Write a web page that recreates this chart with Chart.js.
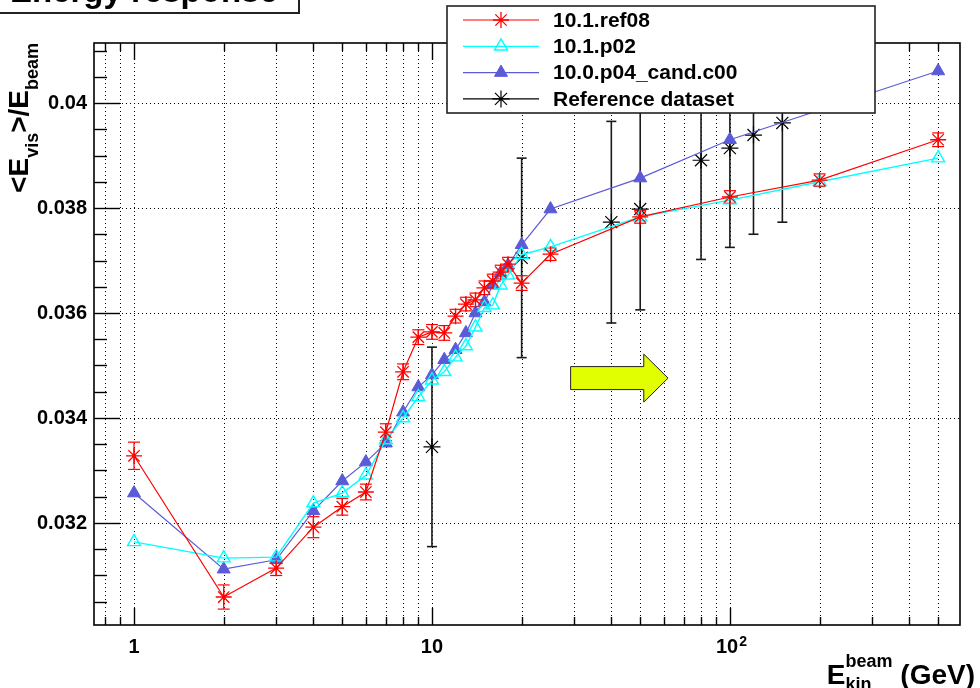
<!DOCTYPE html>
<html>
<head>
<meta charset="utf-8">
<title>Energy response</title>
<script src="https://cdn.jsdelivr.net/npm/chart.js@4.4.1/dist/chart.umd.min.js"></script>
<style>
  html, body { margin: 0; padding: 0; background: #fff; }
  canvas { display: block; }
</style>
</head>
<body>
<canvas id="response" width="980" height="688"></canvas>
<script>
'use strict'

// beam kinetic energies (GeV)
const energies = [1, 2, 3, 4, 5, 6, 7, 8, 9, 10, 11, 12, 13, 14, 15, 16, 17, 18, 20, 25, 50, 100, 200, 500]
const energiesP04 = [1, 2, 3, 4, 5, 6, 7, 8, 9, 10, 11, 12, 13, 14, 15, 16, 17, 18, 20, 25, 50, 100, 500]
const energiesRef = [10, 20, 40, 50, 80, 100, 120, 150]

// <E_vis>/E_beam per release
const ref08 = [0.03328, 0.03059, 0.03114, 0.03192, 0.03231, 0.03259, 0.03373, 0.03488, 0.03554, 0.03564,
  0.03562, 0.03594, 0.03617, 0.03625, 0.03648, 0.03661, 0.03678, 0.03693, 0.03657, 0.03712,
  0.03783, 0.03821, 0.03853, 0.03930]
const ref08Err = [0.00026, 0.00023, 0.00014, 0.00020, 0.00016, 0.00015, 0.00016, 0.00015, 0.00014, 0.00014,
  0.00014, 0.00013, 0.00013, 0.00013, 0.00013, 0.00013, 0.00013, 0.00013, 0.00014, 0.00012,
  0.00012, 0.00012, 0.00012, 0.00013]
const p02 = [0.03164, 0.03133, 0.03135, 0.03238, 0.03257, 0.03291, 0.03358, 0.03400, 0.03440, 0.03472,
  0.03488, 0.03516, 0.03537, 0.03573, 0.03610, 0.03615, 0.03653, 0.03672, 0.03711, 0.03726,
  0.03783, 0.03815, 0.03850, 0.03895]
const p04cand = [0.03257, 0.03112, 0.03130, 0.03223, 0.03280, 0.03316, 0.03352, 0.03411, 0.03459, 0.03482,
  0.03511, 0.03530, 0.03562, 0.03600, 0.03621, 0.03653, 0.03676, 0.03691, 0.03730, 0.03798,
  0.03857, 0.03930, 0.04061]
const refData = [0.03345, 0.03705, 0.03773, 0.03798, 0.03891, 0.03914, 0.03939, 0.03962]
const refErr = [0.00190, 0.00190, 0.00192, 0.00192, 0.00189, 0.00189, 0.00189, 0.00189]

// axes
const xTickValues = [1, 10, 100]
const xTickLabels = ['1', '10', '10']
const xTickExponents = ['', '', '2']
const xGridValues = [0.8, 0.9, 1, 2, 3, 4, 5, 6, 7, 8, 9, 10, 20, 30, 40, 50, 60, 70, 80, 90, 100, 200, 300, 400, 500]
const yTickValues = [0.032, 0.034, 0.036, 0.038, 0.04]
const yTickLabels = ['0.032', '0.034', '0.036', '0.038', '0.04']
const yMinorStep = 0.0005

const FONT = 'Liberation Sans, Arial, Helvetica, sans-serif'

function points (xs, ys) {
  return ys.map((y, i) => ({ x: xs[i], y }))
}

function strokeLine (ctx, x1, y1, x2, y2) {
  ctx.beginPath()
  ctx.moveTo(x1, y1)
  ctx.lineTo(x2, y2)
  ctx.stroke()
}

// a trailing space keeps "10" left of centre so the exponent fits beside it
function xLabelText (i) {
  return xTickExponents[i] ? xTickLabels[i] + ' ' : xTickLabels[i]
}

function drawErrorBars (chart, datasetIndex, errors, color, width, cap) {
  const { ctx, chartArea, scales } = chart
  const meta = chart.getDatasetMeta(datasetIndex)
  const values = chart.data.datasets[datasetIndex].data
  ctx.save()
  ctx.beginPath()
  ctx.rect(chartArea.left, chartArea.top, chartArea.width, chartArea.height)
  ctx.clip()
  ctx.strokeStyle = color
  ctx.lineWidth = width
  meta.data.forEach((pt, i) => {
    const hi = scales.y.getPixelForValue(values[i].y + errors[i])
    const lo = scales.y.getPixelForValue(values[i].y - errors[i])
    strokeLine(ctx, pt.x, hi, pt.x, lo)
    strokeLine(ctx, pt.x - cap, hi, pt.x + cap, hi)
    strokeLine(ctx, pt.x - cap, lo, pt.x + cap, lo)
  })
  ctx.restore()
}

// text made of pieces with their own size and baseline shift (sub/superscripts)
function piecesWidth (ctx, pieces) {
  let w = 0
  pieces.forEach(p => {
    ctx.font = 'bold ' + p.size + 'px ' + FONT
    if (!p.stack) w += ctx.measureText(p.text).width
  })
  return w
}

function drawPieces (ctx, pieces, x, y) {
  let cx = x
  pieces.forEach(p => {
    ctx.font = 'bold ' + p.size + 'px ' + FONT
    ctx.fillText(p.text, cx, y + p.shift)
    if (!p.stack) cx += ctx.measureText(p.text).width
  })
}

const rootStyle = {
  id: 'rootStyle',
  beforeDatasetsDraw (chart) {
    const { ctx, chartArea: a, scales: { x, y } } = chart
    ctx.save()
    ctx.strokeStyle = '#000'
    ctx.lineWidth = 1
    ctx.setLineDash([1, 3])
    xGridValues.forEach(v => {
      const px = Math.round(x.getPixelForValue(v)) + 0.5
      strokeLine(ctx, px, a.top, px, a.bottom)
    })
    yTickValues.forEach(v => {
      const py = Math.round(y.getPixelForValue(v)) + 0.5
      strokeLine(ctx, a.left, py, a.right, py)
    })
    ctx.restore()
    drawErrorBars(chart, 0, ref08Err, '#ff0000', 1.2, 6)
    drawErrorBars(chart, 3, refErr, '#1a1a1a', 1.6, 5)
  },
  afterDatasetsDraw (chart) {
    const { ctx, chartArea: a, scales: { x, y } } = chart
    ctx.save()
    ctx.strokeStyle = '#000'
    ctx.lineWidth = 1.4

    // tick marks, pointing into the frame
    xGridValues.forEach(v => {
      const px = Math.round(x.getPixelForValue(v)) + 0.5
      const len = xTickValues.includes(v) ? 17 : 8
      strokeLine(ctx, px, a.bottom, px, a.bottom - len)
      strokeLine(ctx, px, a.top, px, a.top + len)
    })
    for (let v = 0.0305; v < y.max; v += yMinorStep) {
      const major = yTickValues.some(t => Math.abs(t - v) < 1e-7)
      const py = Math.round(y.getPixelForValue(v)) + 0.5
      strokeLine(ctx, a.left, py, a.left + (major ? 26 : 13), py)
    }
    ctx.lineWidth = 1.6
    ctx.strokeRect(a.left, a.top, a.right - a.left, a.bottom - a.top)

    // exponents of the x tick labels
    ctx.fillStyle = '#000'
    ctx.textBaseline = 'alphabetic'
    xTickValues.forEach((v, i) => {
      if (!xTickExponents[i]) return
      ctx.font = 'bold 20px ' + FONT
      const left = x.getPixelForValue(v) - ctx.measureText(xLabelText(i)).width / 2
      const base = ctx.measureText(xTickLabels[i]).width
      ctx.font = 'bold 14px ' + FONT
      ctx.fillText(xTickExponents[i], left + base + 1, a.bottom + 21)
    })

    // arrow annotation, placed on the data axes
    const ax0 = x.getPixelForValue(29.2)
    const ax1 = x.getPixelForValue(51.4)
    const ax2 = x.getPixelForValue(62)
    const ay = y.getPixelForValue(0.03476)
    ctx.beginPath()
    ctx.moveTo(ax0, ay - 11.5)
    ctx.lineTo(ax1, ay - 11.5)
    ctx.lineTo(ax1, ay - 24)
    ctx.lineTo(ax2, ay)
    ctx.lineTo(ax1, ay + 24)
    ctx.lineTo(ax1, ay + 11.5)
    ctx.lineTo(ax0, ay + 11.5)
    ctx.closePath()
    ctx.fillStyle = '#e2ff00'
    ctx.fill()
    ctx.lineWidth = 1
    ctx.strokeStyle = '#222'
    ctx.stroke()

    // legend box
    ctx.fillStyle = '#fff'
    ctx.fillRect(447, 6, 428, 107)
    ctx.lineWidth = 1.6
    ctx.strokeStyle = '#222'
    ctx.strokeRect(447, 6, 428, 107)
    chart.data.datasets.forEach((ds, i) => {
      const ry = 20 + i * 26.3
      ctx.strokeStyle = ds.borderColor
      ctx.lineWidth = 1.2
      strokeLine(ctx, 463, ry, 539, ry)
      ctx.fillStyle = ds.pointBackgroundColor
      ctx.strokeStyle = ds.pointBorderColor
      ctx.lineWidth = ds.pointBorderWidth
      Chart.helpers.drawPoint(ctx, { pointStyle: ds.pointStyle, radius: ds.pointRadius, rotation: 0, borderWidth: ds.pointBorderWidth }, 501, ry)
      ctx.fillStyle = '#000'
      ctx.font = 'bold 21px ' + FONT
      ctx.textBaseline = 'middle'
      ctx.fillText(ds.label, 553, ry + 1)
    })
    ctx.restore()
  },
  afterDraw (chart) {
    const { ctx, chartArea: a } = chart
    ctx.save()
    ctx.fillStyle = '#000'
    ctx.textBaseline = 'alphabetic'

    // y title, rotated and ending at the top of the frame
    const yTitle = [
      { text: '<E', size: 28, shift: 0 },
      { text: 'vis', size: 18, shift: 10 },
      { text: '>/E', size: 28, shift: 0 },
      { text: 'beam', size: 18, shift: 10 }
    ]
    const yw = piecesWidth(ctx, yTitle)
    ctx.save()
    ctx.translate(28, a.top)
    ctx.rotate(-Math.PI / 2)
    drawPieces(ctx, yTitle, -yw, 0)
    ctx.restore()

    // x title, right aligned under the frame; "beam" sits above "kin"
    ctx.font = 'bold 18px ' + FONT
    const extra = ctx.measureText('beam').width - ctx.measureText('kin').width
    const xTitle = [
      { text: 'E', size: 28, shift: 0 },
      { text: 'beam', size: 18, shift: -17, stack: true },
      { text: 'kin', size: 18, shift: 6 },
      { text: ' (GeV)', size: 28, shift: 0, gap: extra }
    ]
    let cx = 975 - piecesWidth(ctx, xTitle) - extra
    xTitle.forEach(p => {
      cx += p.gap || 0
      ctx.font = 'bold ' + p.size + 'px ' + FONT
      ctx.fillText(p.text, cx, 684 + p.shift)
      if (!p.stack) cx += ctx.measureText(p.text).width
    })

    // title box, cut by the top of the canvas
    ctx.fillStyle = '#fff'
    ctx.fillRect(-4, -30, 303, 43)
    ctx.strokeStyle = '#222'
    ctx.lineWidth = 2
    ctx.strokeRect(-4, -30, 303, 43)
    ctx.fillStyle = '#000'
    ctx.font = 'bold 33px ' + FONT
    ctx.fillText('Energy response', 10, 2)
    ctx.restore()
  }
}

const context = document.getElementById('response').getContext('2d')
new Chart(context, {
  type: 'line',
  data: {
    datasets: [
      {
        label: '10.1.ref08',
        data: points(energies, ref08),
        borderColor: '#ff0000',
        borderWidth: 1.2,
        pointStyle: 'star',
        pointRadius: 8,
        pointBorderColor: '#ff0000',
        pointBackgroundColor: '#ff0000',
        pointBorderWidth: 1.3
      },
      {
        label: '10.1.p02',
        data: points(energies, p02),
        borderColor: '#00ffff',
        borderWidth: 1.4,
        pointStyle: 'triangle',
        pointRadius: 7.5,
        pointBorderColor: '#00ffff',
        pointBackgroundColor: 'rgba(0,0,0,0)',
        pointBorderWidth: 1.4
      },
      {
        label: '10.0.p04_cand.c00',
        data: points(energiesP04, p04cand),
        borderColor: '#5b5bd8',
        borderWidth: 1.2,
        pointStyle: 'triangle',
        pointRadius: 7.5,
        pointBorderColor: '#5b5bd8',
        pointBackgroundColor: '#5b5bd8',
        pointBorderWidth: 1
      },
      {
        label: 'Reference dataset',
        data: points(energiesRef, refData),
        borderColor: '#000',
        showLine: false,
        pointStyle: 'star',
        pointRadius: 8.5,
        pointBorderColor: '#000',
        pointBackgroundColor: '#000',
        pointBorderWidth: 1.2
      }
    ]
  },
  options: {
    responsive: false,
    animation: false,
    events: [],
    layout: { autoPadding: false, padding: { top: 43, right: 20, left: 0, bottom: 0 } },
    plugins: { legend: { display: false }, tooltip: { enabled: false } },
    scales: {
      x: {
        type: 'logarithmic',
        bounds: 'data',
        min: 0.734,
        max: 592,
        grid: { display: false, drawTicks: false },
        border: { display: false },
        afterBuildTicks: scale => { scale.ticks = xTickValues.map(value => ({ value })) },
        afterFit: scale => { scale.height = 63 },
        ticks: {
          autoSkip: false,
          maxRotation: 0,
          padding: 10,
          color: '#000',
          font: { family: FONT, size: 20, weight: 'bold' },
          callback: (value, index) => xLabelText(index)
        }
      },
      y: {
        bounds: 'data',
        min: 0.030057,
        max: 0.041143,
        grid: { display: false, drawTicks: false },
        border: { display: false },
        afterBuildTicks: scale => { scale.ticks = yTickValues.map(value => ({ value })) },
        afterFit: scale => { scale.width = 94 },
        ticks: {
          autoSkip: false,
          padding: 7,
          color: '#000',
          font: { family: FONT, size: 20, weight: 'bold' },
          callback: (value, index) => yTickLabels[index]
        }
      }
    }
  },
  plugins: [rootStyle]
})
</script>
</body>
</html>
